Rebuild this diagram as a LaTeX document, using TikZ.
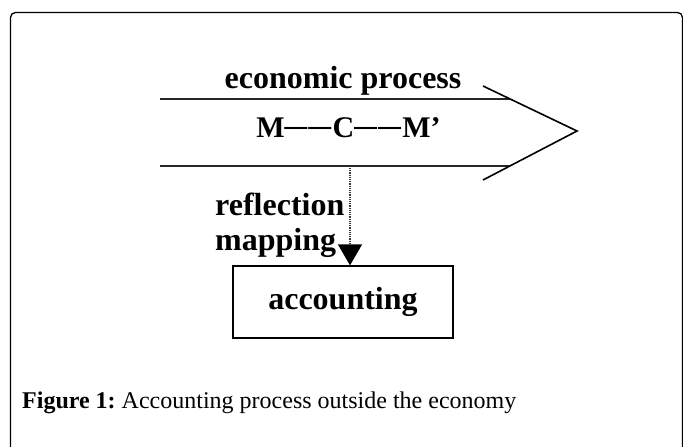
\documentclass[tikz,border=0pt]{standalone}
\usepackage{fontspec}
\usepackage{graphicx}
\setmainfont{Liberation Serif}
\usetikzlibrary{arrows.meta}
\frenchspacing
\newcommand\ldash{\raisebox{2pt}{\scalebox{1.5}[1]{–}}\kern1.5pt}
\tikzset{
  big/.style={font=\bfseries\fontsize{32}{37}\selectfont, inner sep=0pt},
  mid/.style={font=\bfseries\fontsize{30}{36}\selectfont, inner sep=0pt},
  band/.style={line width=2pt, draw=black!85},
  chev/.style={line width=1.6pt},
  frame/.style={line width=1.3pt, rounded corners=5pt},
  accbox/.style={draw, line width=1.3pt, minimum width=220pt, minimum height=72pt, inner sep=0pt, big},
  refl/.style={line width=1.3pt, draw=black!80, dash pattern=on 1.2pt off 1pt, -{Triangle[width=24pt,length=21pt,color=black,fill=black]}}
}
\begin{document}
\begin{tikzpicture}[x=1pt,y=-1pt]
\useasboundingbox (0,0) rectangle (683,447);
% frame
\draw[frame] (10.5,470) -- (10.5,12.5) -- (682.5,12.5) -- (682.5,470);
% band
\coordinate (ul1) at (160,99);
\coordinate (ul2) at (510,99);
\coordinate (ll1) at (160,166);
\coordinate (ll2) at (510,166);
\coordinate (cu) at (483,86);
\coordinate (tip) at (577,131);
\coordinate (cl) at (483,180);
\draw[band] (ul1) -- (ul2);
\draw[band] (ll1) -- (ll2);
\draw[chev] (cu) -- (tip) -- (cl);
\node[big, anchor=base] (ep) at (343,88) {economic process};
\node[mid, anchor=base] (mcm) at (348.5,137) {M\ldash\ldash C\ldash\ldash M’};
% reflection
\node[big, anchor=base west] (rf) at (215,215) {reflection};
\node[big, anchor=base west] (mp) at (215,250) {mapping};
\node[accbox] (acc) at (343,302) {accounting};
\coordinate (as) at (350,168);
\draw[refl] (as) -- (as |- acc.north);
% caption
\node[anchor=base west, inner sep=0pt, font=\fontsize{24}{28}\selectfont] (cap) at (22,408) {\textbf{Figure 1:} Accounting process outside the economy};
\end{tikzpicture}
\end{document}
